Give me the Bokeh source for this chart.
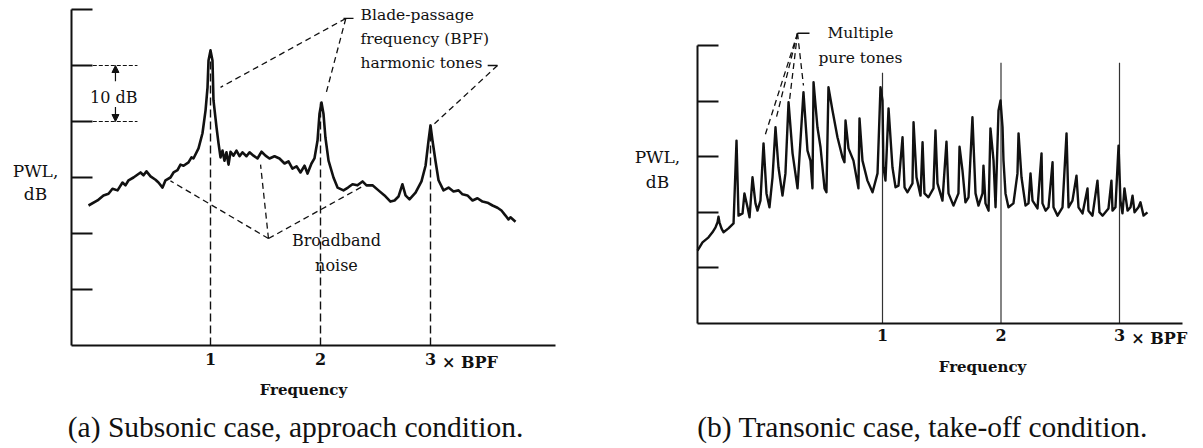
from bokeh.plotting import figure
from bokeh.models import Range1d, FixedTicker, Label, Arrow, NormalHead
from bokeh.layouts import row
from bokeh.embed import file_html
from bokeh.resources import INLINE

# (a) Subsonic fan, approach: frequency in multiples of BPF, sound power level in dB
sub_freq = [-0.109, -0.027, 0.027, 0.073, 0.109, 0.155, 0.200, 0.227, 0.255, 0.300,
            0.364, 0.391, 0.418, 0.455, 0.500, 0.527, 0.564, 0.591, 0.636, 0.664,
            0.700, 0.727, 0.755, 0.800, 0.827, 0.845, 0.891, 0.927, 0.955, 0.973,
            0.982, 1.000, 1.018, 1.027, 1.055, 1.073, 1.091, 1.109, 1.127, 1.145,
            1.164, 1.182, 1.209, 1.236, 1.264, 1.291, 1.327, 1.355, 1.391, 1.427,
            1.464, 1.500, 1.536, 1.582, 1.627, 1.673, 1.709, 1.745, 1.782, 1.818,
            1.855, 1.882, 1.918, 1.945, 1.973, 1.991, 2.009, 2.027, 2.045, 2.073,
            2.118, 2.155, 2.209, 2.250, 2.291, 2.336, 2.382, 2.418, 2.473, 2.527,
            2.582, 2.636, 2.673, 2.709, 2.745, 2.773, 2.809, 2.864, 2.918, 2.955,
            2.982, 3.000, 3.018, 3.045, 3.073, 3.118, 3.164, 3.209, 3.255, 3.291,
            3.336, 3.382, 3.427, 3.473, 3.518, 3.564, 3.609, 3.645, 3.682, 3.709,
            3.727, 3.773]
sub_pwl = [25.0, 25.9, 26.8, 27.1, 28.0, 27.7, 29.1, 28.6, 29.5, 30.0,
           30.9, 30.4, 31.1, 30.2, 29.6, 29.1, 28.2, 29.5, 30.0, 30.9,
           31.3, 32.3, 32.1, 32.7, 33.6, 33.4, 35.2, 37.9, 42.0, 46.1,
           50.9, 52.7, 50.9, 43.8, 38.9, 36.1, 33.6, 34.8, 33.0, 34.5,
           32.3, 34.6, 33.9, 34.8, 33.8, 34.5, 33.8, 34.5, 33.9, 33.4,
           34.6, 33.9, 33.4, 33.8, 33.4, 32.5, 32.9, 31.6, 32.0, 30.9,
           32.1, 30.7, 32.5, 33.4, 36.6, 41.4, 43.4, 41.4, 37.1, 33.0,
           30.0, 28.2, 27.7, 28.2, 28.8, 28.6, 29.3, 28.6, 28.6, 27.7,
           26.8, 25.7, 25.9, 26.6, 28.8, 26.8, 26.1, 27.3, 29.3, 32.1,
           36.6, 39.3, 36.6, 33.0, 29.5, 27.7, 28.2, 27.5, 27.7, 27.0,
           26.8, 25.9, 26.3, 25.7, 25.5, 25.0, 24.6, 24.1, 23.2, 22.5,
           22.9, 22.1]

# (b) Transonic fan, take-off
tr_freq = [-0.561, -0.519, -0.468, -0.435, -0.409, -0.392, -0.384, -0.376, -0.359, -0.342,
           -0.300, -0.257, -0.232, -0.215, -0.181, -0.165, -0.139, -0.122, -0.097, -0.072,
           -0.055, -0.030, -0.004, 0.021, 0.046, 0.072, 0.097, 0.122, 0.156, 0.181,
           0.207, 0.241, 0.283, 0.333, 0.367, 0.392, 0.409, 0.418, 0.451, 0.477,
           0.511, 0.527, 0.544, 0.578, 0.620, 0.662, 0.679, 0.688, 0.713, 0.755,
           0.797, 0.806, 0.831, 0.873, 0.916, 0.958, 0.983, 1.000, 1.008, 1.025,
           1.051, 1.084, 1.110, 1.135, 1.169, 1.186, 1.211, 1.253, 1.262, 1.287,
           1.321, 1.338, 1.354, 1.388, 1.430, 1.447, 1.464, 1.506, 1.540, 1.557,
           1.599, 1.641, 1.650, 1.675, 1.700, 1.726, 1.759, 1.785, 1.810, 1.844,
           1.852, 1.869, 1.895, 1.911, 1.937, 1.954, 1.979, 1.996, 2.013, 2.021,
           2.038, 2.063, 2.105, 2.139, 2.148, 2.173, 2.207, 2.232, 2.249, 2.266,
           2.308, 2.342, 2.350, 2.376, 2.401, 2.435, 2.443, 2.477, 2.519, 2.553,
           2.570, 2.603, 2.637, 2.654, 2.688, 2.730, 2.738, 2.772, 2.814, 2.831,
           2.857, 2.907, 2.932, 2.941, 2.966, 2.992, 3.008, 3.025, 3.042, 3.068,
           3.093, 3.110, 3.127, 3.160, 3.177, 3.203, 3.236]
tr_pwl = [13.1, 14.6, 15.5, 16.4, 17.3, 18.2, 19.2, 18.2, 17.1, 16.4,
          17.1, 18.0, 32.9, 19.4, 19.8, 23.4, 20.9, 19.1, 26.3, 21.6,
          20.3, 22.1, 32.4, 23.4, 20.9, 26.3, 35.3, 28.1, 23.0, 27.0,
          39.8, 30.6, 24.3, 41.6, 31.1, 29.3, 24.3, 43.4, 35.3, 31.7,
          24.3, 23.6, 42.5, 38.3, 33.5, 29.9, 29.0, 36.5, 31.5, 29.3,
          24.3, 36.9, 29.3, 25.7, 23.6, 27.0, 42.5, 40.1, 28.1, 25.7,
          38.7, 28.1, 24.5, 24.8, 33.5, 24.5, 23.6, 25.2, 36.2, 26.3,
          23.0, 32.6, 23.4, 22.7, 24.3, 34.7, 25.2, 22.1, 32.7, 23.4,
          21.2, 23.4, 31.8, 27.5, 21.8, 22.7, 37.1, 23.4, 21.2, 23.4,
          28.4, 21.6, 20.3, 35.1, 29.3, 20.9, 38.3, 40.1, 35.3, 29.3,
          23.4, 20.9, 21.6, 27.0, 34.2, 26.3, 21.2, 21.6, 27.0, 22.1,
          20.7, 30.6, 21.6, 20.3, 20.9, 29.0, 20.9, 19.4, 20.9, 34.2,
          20.9, 22.1, 26.6, 20.9, 19.8, 24.3, 20.3, 19.4, 25.7, 20.0,
          19.4, 20.7, 25.7, 20.3, 20.9, 32.0, 22.1, 19.8, 24.3, 20.3,
          20.9, 23.0, 20.0, 20.9, 21.8, 19.4, 20.0]

harmonics = [1, 2, 3]
harmonic_labels = {1: "1", 2: "2", 3: "3"}
pwl_ticks_a = [10, 20, 30, 40, 50, 60]
pwl_ticks_b = [10, 20, 30, 40, 50]

INK = "#111111"
SERIF = "DejaVu Serif"
TIMES = "Liberation Serif"
H = 448


def peak_near(freqs, levels, f0, half_width=0.06):
    return max(l for f, l in zip(freqs, levels) if abs(f - f0) <= half_width)


def make_panel(width, origin_px, bpf1_px, px_per_bpf, axis_py, px_per_db,
               y_axis_at, x_axis_end, db_ticks, label_standoff):
    """The plot frame fills the whole canvas; axes sit at fixed data positions."""
    x0 = 1 + (origin_px - bpf1_px) / px_per_bpf
    p = figure(width=width, height=H, output_backend="svg", toolbar_location=None,
               x_range=Range1d(x0, x0 + width / px_per_bpf),
               y_range=Range1d(-(H - axis_py) / px_per_db, axis_py / px_per_db),
               min_border=0)
    p.outline_line_color = None
    p.grid.visible = False
    p.background_fill_color = "white"
    p.border_fill_color = "white"

    xa = p.xaxis[0]
    xa.fixed_location = 0
    xa.ticker = FixedTicker(ticks=harmonics)
    xa.major_label_overrides = harmonic_labels
    xa.bounds = (y_axis_at, x_axis_end)
    xa.major_tick_in = 0
    xa.major_tick_out = 0
    xa.minor_tick_line_color = None
    xa.axis_line_width = 2
    xa.axis_line_color = INK
    xa.major_label_text_font = SERIF
    xa.major_label_text_font_style = "bold"
    xa.major_label_text_font_size = "16px"
    xa.major_label_text_color = INK
    xa.major_label_standoff = label_standoff

    ya = p.yaxis[0]
    ya.fixed_location = y_axis_at
    ya.ticker = FixedTicker(ticks=db_ticks)
    ya.bounds = (0, db_ticks[-1])
    ya.major_tick_in = 21
    ya.major_tick_out = 0
    ya.major_tick_line_width = 2
    ya.major_tick_line_color = INK
    ya.minor_tick_line_color = None
    ya.axis_line_width = 2
    ya.axis_line_color = INK
    ya.major_label_text_color = None
    ya.major_label_text_font_size = "8px"
    return p


def text(p, x, y, s, size="15.5px", font=SERIF, align="center", style="normal"):
    p.add_layout(Label(x=x, y=y, text=s, text_font=font, text_font_size=size,
                       text_align=align, text_baseline="middle", text_color=INK,
                       text_font_style=style))


# ---------------- (a) subsonic, approach ----------------
pa = make_panel(600, 0, 210, 110.0, 345, 5.6, -0.2636, 4.136, pwl_ticks_a, 7)

for h in harmonics:
    top = peak_near(sub_freq, sub_pwl, h)
    pa.line([h, h], [0, top], line_color=INK, line_width=1.4, line_dash="8 4")

pa.line(sub_freq, sub_pwl, line_color=INK, line_width=2.6, line_join="round")

# 10 dB scale bracket
for lvl in (40, 50):
    pa.line([-0.07, 0.336], [lvl, lvl], line_color=INK, line_width=1.2, line_dash="4 2")
pa.add_layout(Arrow(x_start=0.136, y_start=47.2, x_end=0.136, y_end=50,
                    line_width=1.2, line_color=INK,
                    end=NormalHead(size=7, fill_color=INK, line_color=INK)))
pa.add_layout(Arrow(x_start=0.136, y_start=42.6, x_end=0.136, y_end=40,
                    line_width=1.2, line_color=INK,
                    end=NormalHead(size=7, fill_color=INK, line_color=INK)))
text(pa, 0.12, 44.3, "10 dB", size="16px")

# tone call-outs
text(pa, 2.364, 59.1, "Blade-passage", align="left")
text(pa, 2.364, 54.8, "frequency (BPF)", align="left")
text(pa, 2.364, 50.4, "harmonic tones", align="left")
pa.line([2.209, 2.30], [58.4, 58.4], line_color=INK, line_width=1.3)
pa.multi_line([[2.23, 1.091], [2.23, 2.045], [3.609, 3.036]],
              [[58.4, 46.1], [58.4, 44.6], [50.0, 39.6]],
              line_color=INK, line_width=1.3, line_dash="6 4")
pa.line([3.52, 3.609], [50.0, 50.0], line_color=INK, line_width=1.3)

# broadband call-outs
pa.multi_line([[1.527, 0.636], [1.527, 1.455], [1.527, 2.382]],
              [[19.1, 29.4], [19.1, 32.3], [19.1, 28.4]],
              line_color=INK, line_width=1.3, line_dash="6 4")
text(pa, 2.145, 18.75, "Broadband", size="16px")
text(pa, 2.145, 14.3, "noise", size="16px")

text(pa, -0.591, 31.25, "PWL,", size="17px")
text(pa, -0.591, 27.1, "dB", size="17px")
text(pa, 3.105, -3.0, "× BPF", size="16px", align="left", style="bold")
text(pa, 1.845, -8.0, "Frequency", size="15px", style="bold")
text(pa, 1.773, -14.6, "(a) Subsonic case, approach condition.", size="29.5px", font=TIMES)

# ---------------- (b) transonic, take-off ----------------
pb = make_panel(603, 600, 882, 118.5, 323, 5.56, -0.561, 3.532, pwl_ticks_b, 5)

bpf_marker_top = [45.1, 46.9, 46.9]
for h, top in zip(harmonics, bpf_marker_top):
    pb.line([h, h], [0, top], line_color="#333333", line_width=1.2)

pb.line(tr_freq, tr_pwl, line_color=INK, line_width=2.4, line_join="round")

text(pb, 0.814, 52.2, "Multiple")
text(pb, 0.814, 47.8, "pure tones")
pb.line([0.283, 0.384], [52.2, 52.2], line_color=INK, line_width=1.3)
pb.multi_line([[0.283, 0.004], [0.283, 0.105], [0.283, 0.215], [0.283, 0.333]],
              [[52.2, 33.5], [52.2, 37.1], [52.2, 40.1], [52.2, 42.8]],
              line_color=INK, line_width=1.3, line_dash="6 4")

text(pb, -0.899, 29.9, "PWL,", size="17px")
text(pb, -0.899, 25.4, "dB", size="17px")
text(pb, 3.10, -2.7, "× BPF", size="16px", align="left", style="bold")
text(pb, 1.844, -7.9, "Frequency", size="15px", style="bold")
text(pb, 1.338, -18.7, "(b) Transonic case, take-off condition.", size="29.5px", font=TIMES)

layout = row(pa, pb)
open("out.html", "w").write(file_html(layout, INLINE))
